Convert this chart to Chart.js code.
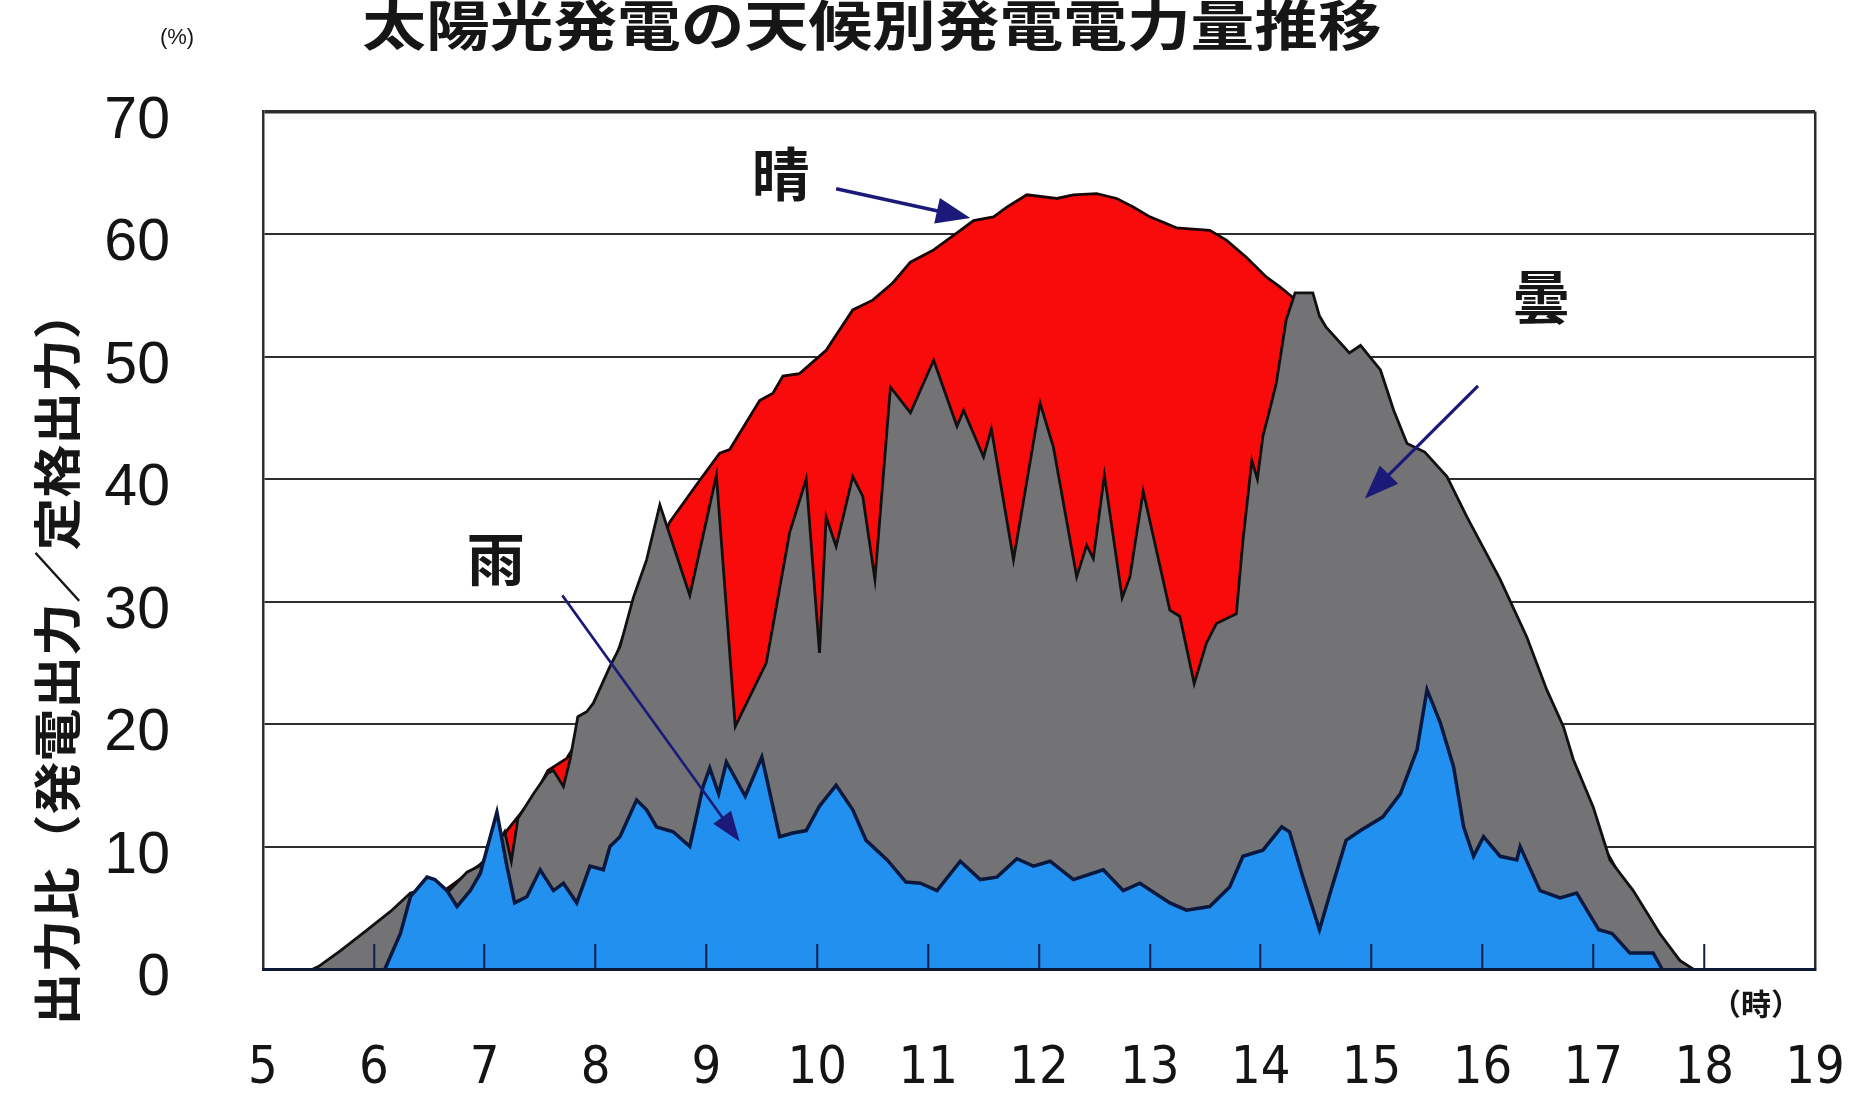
<!DOCTYPE html>
<html>
<head>
<meta charset="utf-8">
<script src="https://cdn.jsdelivr.net/npm/chart.js@4.4.1/dist/chart.umd.min.js"></script>
<style>
html,body{margin:0;padding:0;background:#ffffff;}
#wrap{width:1854px;height:1094px;position:relative;}
</style>
</head>
<body>
<div id="wrap"><canvas id="c" width="1854" height="1094"></canvas></div>
<script>
// ---- texts ----
const chartTitle = '太陽光発電の天候別発電電力量推移';
const yAxisTitle = '出力比（発電出力／定格出力）';
const yUnitLabel = '(%)';
const xUnitLabel = '（時）';
const seriesNames = ['晴', '曇', '雨'];

// ---- tick labels ----
const xTickLabels = [5, 6, 7, 8, 9, 10, 11, 12, 13, 14, 15, 16, 17, 18, 19];
const yTickLabels = [0, 10, 20, 30, 40, 50, 60, 70];

// ---- 晴 (clear) ----
const clearHours  = [5.5, 6.0, 6.5, 7.0, 7.2, 7.44, 7.57, 7.74, 7.9, 8.1,
                     8.3, 8.5, 8.67, 8.94, 9.12, 9.21, 9.48, 9.6, 9.69, 9.84,
                     10.08, 10.32, 10.5, 10.68, 10.84, 11.05, 11.26, 11.41, 11.59, 11.71,
                     11.89, 12.16, 12.31, 12.52, 12.7, 12.85, 13.0, 13.24, 13.54, 13.69,
                     13.87, 14.05, 14.17, 14.28, 14.5, 15.0, 15.5, 16.0, 16.5, 17.0,
                     17.5, 17.85];
const clearValues = [0, 2.5, 5.5, 8.8, 11.3, 14.0, 16.2, 17.2, 19.5, 23.3,
                     28.5, 33.0, 36.5, 39.9, 42.1, 42.4, 46.4, 47.0, 48.4, 48.6,
                     50.5, 53.8, 54.6, 56.0, 57.7, 58.7, 60.1, 61.1, 61.4, 62.2,
                     63.2, 62.9, 63.2, 63.3, 62.9, 62.2, 61.4, 60.5, 60.3, 59.5,
                     58.1, 56.5, 55.7, 54.9, 53.0, 47.0, 40.5, 33.5, 23.0, 11.5,
                     3.5, 0];

// ---- 曇 (cloudy) ----
const cloudyHours  = [5.45, 5.5, 5.7, 5.94, 6.15, 6.33, 6.5, 6.66, 6.84, 6.95,
                      7.1, 7.18, 7.24, 7.3, 7.44, 7.57, 7.62, 7.71, 7.77, 7.84,
                      7.92, 7.98, 8.13, 8.22, 8.34, 8.46, 8.58, 8.85, 9.09, 9.26,
                      9.54, 9.75, 9.9, 10.02, 10.08, 10.17, 10.32, 10.41, 10.52, 10.66,
                      10.84, 11.05, 11.26, 11.32, 11.5, 11.57, 11.77, 12.01, 12.13, 12.34,
                      12.43, 12.49, 12.59, 12.75, 12.82, 12.94, 13.18, 13.27, 13.4, 13.51,
                      13.6, 13.78, 13.84, 13.92, 13.97, 14.02, 14.08, 14.14, 14.23, 14.31,
                      14.47, 14.53, 14.59, 14.8, 14.9, 15.08, 15.2, 15.32, 15.48, 15.68,
                      15.86, 16.16, 16.4, 16.58, 16.73, 16.82, 17.0, 17.15, 17.36, 17.6,
                      17.78, 17.9];
const cloudyValues = [0, 0.2, 1.5, 3.2, 4.7, 6.2, 6.6, 6.2, 7.9, 8.4,
                      10.0, 11.2, 8.8, 12.3, 14.3, 16.0, 16.2, 14.9, 17.1, 20.6,
                      21.0, 21.7, 24.7, 26.3, 30.3, 33.4, 37.9, 30.5, 40.3, 19.8,
                      25.0, 35.6, 40.0, 25.8, 36.9, 34.5, 40.2, 38.6, 31.8, 47.5,
                      45.4, 49.7, 44.3, 45.6, 41.8, 44.1, 33.4, 46.2, 42.6, 32.0,
                      34.6, 33.5, 40.3, 30.3, 32.0, 39.0, 29.3, 28.8, 23.3, 26.6,
                      28.2, 29.0, 35.0, 41.5, 40.0, 43.5, 45.6, 47.8, 53.0, 55.2,
                      55.2, 53.3, 52.4, 50.3, 50.9, 48.9, 45.6, 42.9, 42.2, 40.2,
                      36.9, 31.8, 27.1, 22.8, 19.8, 17.1, 13.2, 8.9, 6.4, 2.9,
                      0.7, 0];

// ---- 雨 (rain) ----
const rainHours  = [6.1, 6.24, 6.33, 6.48, 6.55, 6.66, 6.75, 6.87, 6.96, 7.11,
                    7.2, 7.27, 7.38, 7.5, 7.62, 7.71, 7.83, 7.95, 8.07, 8.13,
                    8.22, 8.37, 8.46, 8.55, 8.7, 8.85, 8.97, 9.03, 9.11, 9.18,
                    9.35, 9.5, 9.66, 9.78, 9.9, 10.02, 10.17, 10.32, 10.44, 10.63,
                    10.8, 10.93, 11.08, 11.29, 11.47, 11.62, 11.8, 11.95, 12.1, 12.31,
                    12.58, 12.76, 12.91, 13.18, 13.33, 13.54, 13.72, 13.84, 14.02, 14.19,
                    14.26, 14.38, 14.53, 14.62, 14.77, 14.9, 15.1, 15.26, 15.41, 15.5,
                    15.62, 15.74, 15.83, 15.92, 16.01, 16.16, 16.31, 16.34, 16.52, 16.7,
                    16.85, 17.05, 17.17, 17.33, 17.54, 17.62];
const rainValues = [0, 2.9, 5.9, 7.5, 7.3, 6.4, 5.1, 6.4, 7.8, 12.8,
                    8.4, 5.4, 5.9, 8.1, 6.4, 7.0, 5.4, 8.4, 8.1, 10.0,
                    10.8, 13.8, 13.0, 11.6, 11.2, 10.0, 14.9, 16.4, 14.3, 16.9,
                    14.1, 17.3, 10.8, 11.1, 11.3, 13.3, 15.0, 13.0, 10.5, 8.9,
                    7.1, 7.0, 6.4, 8.8, 7.3, 7.5, 9.0, 8.4, 8.8, 7.3,
                    8.1, 6.4, 7.0, 5.4, 4.8, 5.1, 6.7, 9.2, 9.7, 11.6,
                    11.2, 7.5, 3.2, 6.0, 10.5, 11.3, 12.4, 14.3, 17.9, 22.8,
                    20.1, 16.5, 11.6, 9.2, 10.8, 9.2, 8.9, 10.0, 6.4, 5.8,
                    6.2, 3.2, 2.9, 1.3, 1.3, 0];

// ---- annotation anchors (data coordinates) ----
const seriesLabelHours  = [9.67, 16.53, 7.10];
const seriesLabelValues = [64.9, 54.9, 33.5];
const arrowStartHours  = [10.17, 15.96, 7.70];
const arrowStartValues = [63.7, 47.6, 30.5];
const arrowEndHours    = [11.38, 14.94, 9.30];
const arrowEndValues   = [61.3, 38.4, 10.4];

function toPoints(hs, vs) { return hs.map((h, i) => ({ x: h, y: vs[i] })); }

const CJK = '"Noto Sans CJK JP","Noto Sans CJK SC",sans-serif';

function drawArrow(ctx, x0, y0, x1, y1, lw, headLen, headW) {
  const a = Math.atan2(y1 - y0, x1 - x0);
  const c = Math.cos(a), s = Math.sin(a);
  ctx.lineWidth = lw;
  ctx.beginPath();
  ctx.moveTo(x0, y0);
  ctx.lineTo(x1 - c * headLen * 0.7, y1 - s * headLen * 0.7);
  ctx.stroke();
  const bx = x1 - c * headLen, by = y1 - s * headLen;
  ctx.beginPath();
  ctx.moveTo(x1, y1);
  ctx.lineTo(bx + s * headW / 2, by - c * headW / 2);
  ctx.lineTo(bx - s * headW / 2, by + c * headW / 2);
  ctx.closePath();
  ctx.fill();
}

const annotPlugin = {
  id: 'annot',
  afterDraw(chart) {
    const ctx = chart.ctx;
    const xs = chart.scales.x, ys = chart.scales.y;
    ctx.save();
    ctx.fillStyle = '#161616';
    ctx.textAlign = 'center';
    ctx.textBaseline = 'middle';

    // main title (horizontally wide lettering)
    ctx.save();
    ctx.translate(872, 25);
    ctx.scale(1.18, 1);
    ctx.font = 'bold 54px ' + CJK;
    ctx.fillText(chartTitle, 0, 0);
    ctx.restore();

    // unit labels
    ctx.font = '22px "Liberation Sans",sans-serif';
    ctx.fillText(yUnitLabel, 177, 38);
    ctx.font = 'bold 30px ' + CJK;
    ctx.fillText(xUnitLabel, 1756, 1004);

    // y-axis title
    ctx.save();
    ctx.translate(57, 656);
    ctx.rotate(-Math.PI / 2);
    ctx.scale(1.1, 1);
    ctx.font = 'bold 48px ' + CJK;
    ctx.fillText(yAxisTitle, 0, 0);
    ctx.restore();

    // series labels
    ctx.font = 'bold 58px ' + CJK;
    seriesNames.forEach((n, i) => {
      ctx.fillText(n, xs.getPixelForValue(seriesLabelHours[i]), ys.getPixelForValue(seriesLabelValues[i]));
    });

    // arrows
    ctx.strokeStyle = '#1b1a78';
    ctx.fillStyle = '#1b1a78';
    const widths = [3.5, 3.2, 2.6];
    const heads = [[34, 26], [34, 26], [30, 22]];
    for (let i = 0; i < 3; i++) {
      drawArrow(ctx,
        xs.getPixelForValue(arrowStartHours[i]), ys.getPixelForValue(arrowStartValues[i]),
        xs.getPixelForValue(arrowEndHours[i]), ys.getPixelForValue(arrowEndValues[i]),
        widths[i], heads[i][0], heads[i][1]);
    }
    ctx.restore();
  }
};

new Chart(document.getElementById('c'), {
  type: 'line',
  data: {
    datasets: [
      { label: seriesNames[0], data: toPoints(clearHours, clearValues), order: 3,
        backgroundColor: '#f90b0b', borderColor: '#1a0505', borderWidth: 2.8, fill: 'origin',
        pointRadius: 0, tension: 0 },
      { label: seriesNames[1], data: toPoints(cloudyHours, cloudyValues), order: 2,
        backgroundColor: '#737375', borderColor: '#111111', borderWidth: 2.8, fill: 'origin',
        pointRadius: 0, tension: 0 },
      { label: seriesNames[2], data: toPoints(rainHours, rainValues), order: 1,
        backgroundColor: '#2290ee', borderColor: '#08183f', borderWidth: 3.5, fill: 'origin',
        pointRadius: 0, tension: 0 }
    ]
  },
  options: {
    responsive: false,
    animation: false,
    layout: { padding: { top: 111.5, right: 39, bottom: 0, left: 0 } },
    plugins: { legend: { display: false }, tooltip: { enabled: false }, title: { display: false } },
    scales: {
      x: {
        type: 'linear', min: 5, max: 19,
        afterBuildTicks: s => { s.ticks = xTickLabels.map(v => ({ value: v })); },
        afterFit: s => { s.height = 125; s.paddingLeft = 0; s.paddingRight = 0; },
        grid: {
          z: 1,
          drawOnChartArea: true,
          color: c => (c.tick && c.tick.value === 19) ? '#2a2a2a' : 'rgba(0,0,0,0)',
          lineWidth: 2.5,
          drawTicks: true,
          tickLength: -25,
          tickWidth: 2,
          tickColor: c => (c.tick && c.tick.value > 5 && c.tick.value < 19) ? '#0d1f4a' : 'rgba(0,0,0,0)'
        },
        border: { display: true, color: '#0b1733', width: 3, z: 1 },
        ticks: {
          autoSkip: false, maxRotation: 0, padding: 94, color: '#141414',
          font: { family: '"Liberation Sans Narrow","DejaVu Sans Condensed","Liberation Sans",Arial,sans-serif', size: 52 },
          callback: v => String(v)
        }
      },
      y: {
        min: 0, max: 70,
        afterBuildTicks: s => { s.ticks = yTickLabels.map(v => ({ value: v })); },
        afterFit: s => { s.width = 263; s.paddingTop = 0; s.paddingBottom = 0; },
        grid: {
          color: '#2e2e2e',
          lineWidth: c => (c.tick && c.tick.value === 70) ? 3.5 : 2,
          drawTicks: false
        },
        border: { display: true, color: '#2e2e2e', width: 2.5 },
        ticks: {
          padding: 93, labelOffset: 10, color: '#141414',
          font: { family: '"Liberation Sans",Arial,sans-serif', size: 59 },
          callback: v => String(v)
        }
      }
    }
  },
  plugins: [annotPlugin]
});
</script>
</body>
</html>
